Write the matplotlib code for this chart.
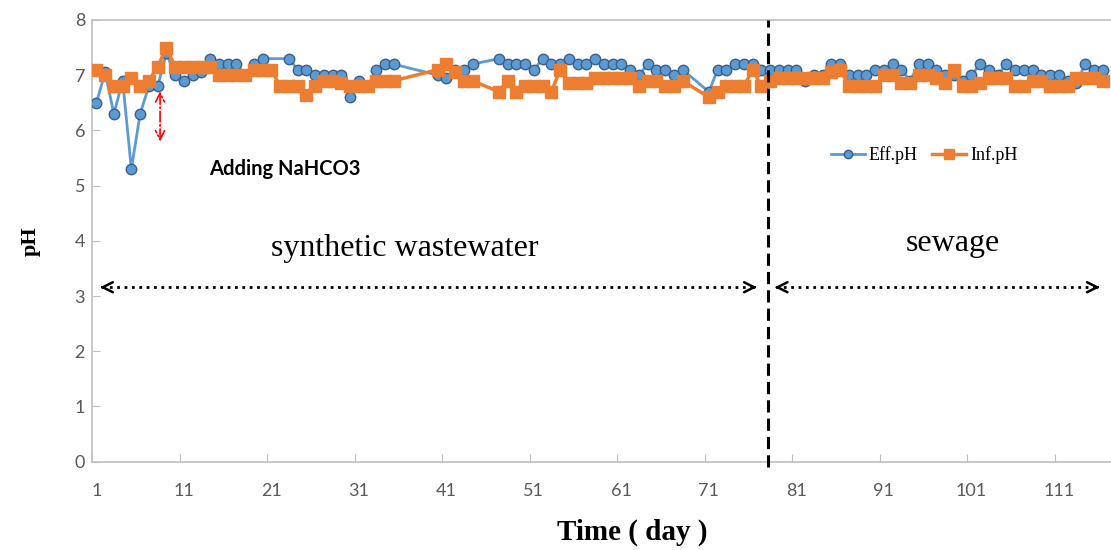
import numpy as np
import matplotlib.pyplot as plt

nan = np.nan

days = np.arange(1, 117)

eff_ph = [6.5, 7.05, 6.3, 6.9, 5.3, 6.3, 6.8, 6.8, 7.4, 7.0,
          6.9, 7.0, 7.05, 7.3, 7.2, 7.2, 7.2, 7.0, 7.2, 7.3,
          nan, nan, 7.3, 7.1, 7.1, 7.0, 7.0, 7.0, 7.0, 6.6,
          6.9, 6.8, 7.1, 7.2, 7.2, nan, nan, nan, nan, 7.0,
          6.95, 7.1, 7.1, 7.2, nan, nan, 7.3, 7.2, 7.2, 7.2,
          7.1, 7.3, 7.2, 7.2, 7.3, 7.2, 7.2, 7.3, 7.2, 7.2,
          7.2, 7.1, 7.0, 7.2, 7.1, 7.1, 7.0, 7.1, nan, nan,
          6.7, 7.1, 7.1, 7.2, 7.2, 7.2, 7.1, 7.1, 7.1, 7.1,
          7.1, 6.9, 7.0, 7.0, 7.2, 7.2, 7.0, 7.0, 7.0, 7.1,
          7.1, 7.2, 7.1, 6.9, 7.2, 7.2, 7.1, 7.0, 7.0, 6.9,
          7.0, 7.2, 7.1, 7.0, 7.2, 7.1, 7.1, 7.1, 7.0, 7.0,
          7.0, 6.9, 6.85, 7.2, 7.1, 7.1]

inf_ph = [7.1, 7.0, 6.8, 6.8, 6.95, 6.8, 6.9, 7.15, 7.5, 7.15,
          7.15, 7.15, 7.15, 7.15, 7.0, 7.0, 7.0, 7.0, 7.1, 7.1,
          7.1, 6.8, 6.8, 6.8, 6.65, 6.8, 6.9, 6.9, 6.85, 6.8,
          6.8, 6.8, 6.9, 6.9, 6.9, nan, nan, nan, nan, 7.1,
          7.2, 7.05, 6.9, 6.9, nan, nan, 6.7, 6.9, 6.7, 6.8,
          6.8, 6.8, 6.7, 7.1, 6.85, 6.85, 6.85, 6.95, 6.95, 6.95,
          6.95, 6.95, 6.8, 6.9, 6.9, 6.8, 6.8, 6.9, nan, nan,
          6.6, 6.7, 6.8, 6.8, 6.8, 7.1, 6.8, 6.9, 6.95, 6.95,
          6.95, 6.95, 6.95, 6.95, 7.05, 7.1, 6.8, 6.8, 6.8, 6.8,
          7.0, 7.0, 6.85, 6.85, 7.0, 7.0, 6.95, 6.85, 7.1, 6.8,
          6.8, 6.85, 6.95, 6.95, 6.95, 6.8, 6.8, 6.9, 6.9, 6.8,
          6.8, 6.8, 6.95, 6.95, 6.95, 6.9]

tick_days = np.arange(1, 117, 10)
switch_day = 77.75

eff_ph = np.array(eff_ph)
inf_ph = np.array(inf_ph)

fig = plt.figure(figsize=(11.11, 5.5), dpi=100)
ax = fig.add_axes([92 / 1111, 88.3 / 550, 1019 / 1111, 441.7 / 550])

# Excel joins points across empty days, so draw lines from valid points only
m = ~np.isnan(eff_ph)
ax.plot(days[m], eff_ph[m], color='#5B9BD5', lw=2, marker='o', ms=7.5,
        mfc='#5B9BD5', mec='#3A5F86', mew=1, label='Eff.pH', zorder=3)
m = ~np.isnan(inf_ph)
ax.plot(days[m], inf_ph[m], color='#ED7D31', lw=2.5, marker='s', ms=8.5,
        mfc='#ED7D31', mec='#ED7D31', label='Inf.pH', zorder=4)

ax.set_xlim(0.5, 0.5 + 1019 / 8.75)
ax.set_ylim(0, 8)

ax.set_xticks(np.arange(0.5, 117, 10))
ax.set_xticklabels([])
ax.set_xticks(tick_days, minor=True)
ax.set_xticklabels([str(d) for d in tick_days], minor=True)
ax.tick_params(axis='x', which='major', direction='in', length=6, color='#BFBFBF')
ax.tick_params(axis='x', which='minor', length=0, pad=15, labelsize=13,
               labelcolor='#595959')
ax.set_yticks(range(0, 9))
ax.tick_params(axis='y', direction='in', length=6, color='#BFBFBF', pad=5,
               labelsize=13, labelcolor='#595959')
for lab in ax.get_xticklabels(minor=True) + ax.get_yticklabels():
    lab.set_family('Lato')

for s in ['left', 'bottom', 'top']:
    ax.spines[s].set_color('#BFBFBF')
    ax.spines[s].set_linewidth(1.2)
ax.spines['right'].set_visible(False)

ax.plot([switch_day, switch_day], [-0.1, 8], color='black', lw=2.2,
        ls=(0, (4, 2)), clip_on=False, zorder=5)

# dotted period arrows
def period_arrow(x0, x1, y):
    ax.plot([x0 + 0.5, x1 - 0.5], [y, y], color='black', lw=2, ls=':')
    ax.annotate('', xy=(x0, y), xytext=(x0 + 1, y),
                arrowprops=dict(arrowstyle='->', lw=1.8, color='black',
                                mutation_scale=18))
    ax.annotate('', xy=(x1, y), xytext=(x1 - 1, y),
                arrowprops=dict(arrowstyle='->', lw=1.8, color='black',
                                mutation_scale=18))

period_arrow(1.1, 76.8, 3.16)
period_arrow(78.2, 116.0, 3.16)

ax.annotate('', xy=(8.28, 6.76), xytext=(8.28, 5.75),
            arrowprops=dict(arrowstyle='<->', lw=1.2, color='red',
                            ls='-.', mutation_scale=16))

ax.text(22.5, 5.3, 'Adding NaHCO3', fontsize=14.5, fontweight='bold',
        family='Lato', color='black', ha='center', va='center')
ax.text(36.2, 3.87, 'synthetic wastewater', fontsize=23,
        family='Liberation Serif', ha='center', va='center')
ax.text(98.9, 3.96, 'sewage', fontsize=23,
        family='Liberation Serif', ha='center', va='center')

ax.set_ylabel('pH', fontsize=16, fontweight='bold', family='Liberation Serif',
              labelpad=24)
fig.text(632 / 1111, 1 - 532 / 550, 'Time ( day )', fontsize=21,
         fontweight='bold', family='Liberation Serif', ha='center', va='center')

leg = ax.legend(loc='center', bbox_to_anchor=(924 / 1111, 1 - 155 / 550),
                bbox_transform=fig.transFigure, ncol=2, frameon=False,
                prop={'family': 'Liberation Serif', 'size': 13},
                handlelength=1.9, handletextpad=0.2, columnspacing=0.8,
                markerscale=0.8)

fig.savefig('out.png', dpi=100)
